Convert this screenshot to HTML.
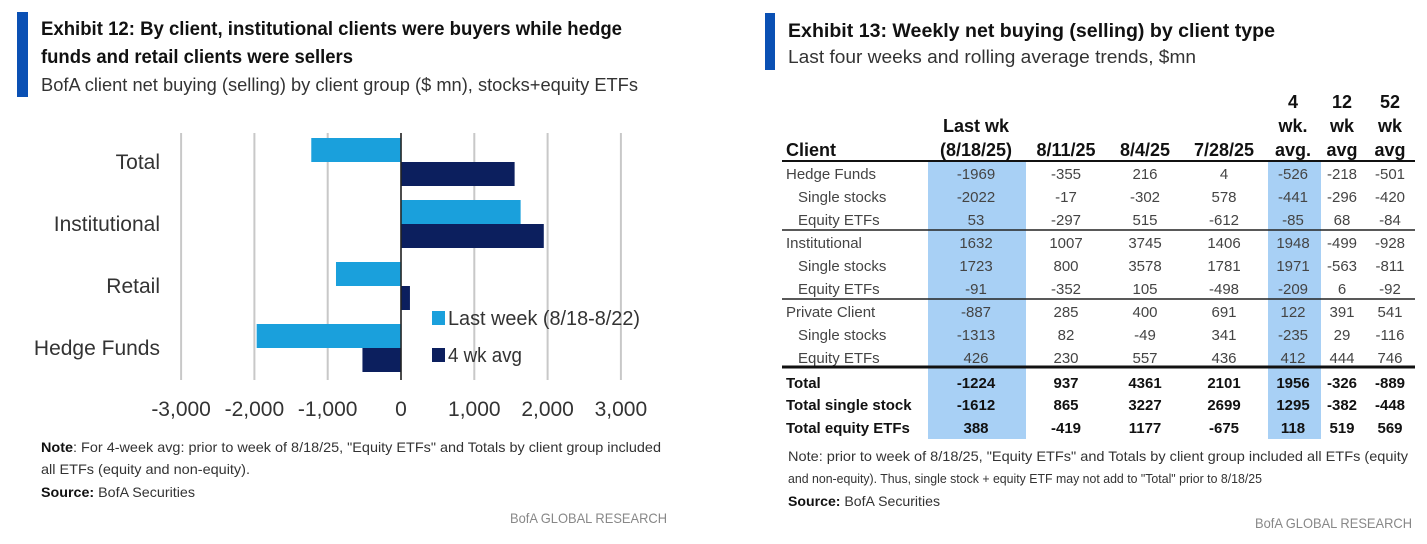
<!DOCTYPE html>
<html><head><meta charset="utf-8"><style>
html,body{margin:0;padding:0;background:#fff;}
svg{display:block;font-family:"Liberation Sans Narrow","Liberation Sans",sans-serif;}
</style></head><body>
<svg id="s" width="1427" height="544" viewBox="0 0 1427 544" xmlns="http://www.w3.org/2000/svg">
<rect width="1427" height="544" fill="#fff"/>
<rect x="17" y="12" width="11" height="85" fill="#0a50b4"/>
<text x="41" y="35" font-size="19" font-weight="bold" fill="#111" textLength="581" lengthAdjust="spacingAndGlyphs">Exhibit 12: By client, institutional clients were buyers while hedge</text>
<text x="41" y="63" font-size="19" font-weight="bold" fill="#111" textLength="312" lengthAdjust="spacingAndGlyphs">funds and retail clients were sellers</text>
<text x="41" y="91" font-size="18" fill="#333" textLength="597" lengthAdjust="spacingAndGlyphs">BofA client net buying (selling) by client group ($ mn), stocks+equity ETFs</text>
<g id="chart"></g>
<rect x="432" y="311" width="13" height="14" fill="#1aa0dc"/>
<text x="448" y="325" font-size="20" fill="#333" textLength="192" lengthAdjust="spacingAndGlyphs">Last week (8/18-8/22)</text>
<rect x="432" y="348" width="13" height="14" fill="#0c1f5e"/>
<text x="448" y="362" font-size="20" fill="#333" textLength="74" lengthAdjust="spacingAndGlyphs">4 wk avg</text>
<text x="41" y="452" font-size="14" fill="#333" textLength="620" lengthAdjust="spacingAndGlyphs"><tspan font-weight="bold" fill="#111">Note</tspan>: For 4-week avg: prior to week of 8/18/25, "Equity ETFs" and Totals by client group included</text>
<text x="41" y="474" font-size="14" fill="#333" textLength="209" lengthAdjust="spacingAndGlyphs">all ETFs (equity and non-equity).</text>
<text x="41" y="497" font-size="14" fill="#333" textLength="154" lengthAdjust="spacingAndGlyphs"><tspan font-weight="bold" fill="#111">Source:</tspan> BofA Securities</text>
<text x="510" y="523" font-size="14" fill="#888" textLength="157" lengthAdjust="spacingAndGlyphs">BofA GLOBAL RESEARCH</text>

<rect x="765" y="13" width="10" height="57" fill="#0a50b4"/>
<text x="788" y="37" font-size="19" font-weight="bold" fill="#111" textLength="487" lengthAdjust="spacingAndGlyphs">Exhibit 13: Weekly net buying (selling) by client type</text>
<text x="788" y="63" font-size="18" fill="#333" textLength="408" lengthAdjust="spacingAndGlyphs">Last four weeks and rolling average trends, $mn</text>
<g id="table"></g>
<text x="788" y="461" font-size="14" fill="#333" textLength="620" lengthAdjust="spacingAndGlyphs">Note: prior to week of 8/18/25, "Equity ETFs" and Totals by client group included all ETFs (equity</text>
<text x="788" y="483" font-size="13" fill="#333" textLength="474" lengthAdjust="spacingAndGlyphs">and non-equity). Thus, single stock + equity ETF may not add to "Total" prior to 8/18/25</text>
<text x="788" y="506" font-size="14" fill="#333" textLength="152" lengthAdjust="spacingAndGlyphs"><tspan font-weight="bold" fill="#111">Source:</tspan> BofA Securities</text>
<text x="1255" y="528" font-size="14" fill="#888" textLength="157" lengthAdjust="spacingAndGlyphs">BofA GLOBAL RESEARCH</text>
</svg>
<script>
const categories = ["Total","Institutional","Retail","Hedge Funds"];
const lastWeek = [-1224, 1632, -887, -1969];
const fourWkAvg = [1550, 1948, 122, -526];
const xTicks = [-3000,-2000,-1000,0,1000,2000,3000];
const xTickLabels = ["-3,000","-2,000","-1,000","0","1,000","2,000","3,000"];

const rowLabels = ["Hedge Funds","Single stocks","Equity ETFs","Institutional","Single stocks","Equity ETFs","Private Client","Single stocks","Equity ETFs","Total","Total single stock","Total equity ETFs"];
const colLastWk = [-1969,-2022,53,1632,1723,-91,-887,-1313,426,-1224,-1612,388];
const col0811 = [-355,-17,-297,1007,800,-352,285,82,230,937,865,-419];
const col0804 = [216,-302,515,3745,3578,105,400,-49,557,4361,3227,1177];
const col0728 = [4,578,-612,1406,1781,-498,691,341,436,2101,2699,-675];
const col4wk = [-526,-441,-85,1948,1971,-209,122,-235,412,1956,1295,118];
const col12wk = [-218,-296,68,-499,-563,6,391,29,444,-326,-382,519];
const col52wk = [-501,-420,-84,-928,-811,-92,541,-116,746,-889,-448,569];

const NS="http://www.w3.org/2000/svg";
function mk(tag, attrs, parent){const e=document.createElementNS(NS,tag);for(const k in attrs)e.setAttribute(k,attrs[k]);parent.appendChild(e);return e;}

const chart=document.getElementById('chart');
const x0=401, pxPer=73.3/1000;
const xs=v=>x0+v*pxPer;
const plotTop=133, plotBottom=380, band=62, barH=24;
xTicks.forEach((t,i)=>{
  const g=mk('line',{x1:xs(t),x2:xs(t),y1:plotTop,y2:plotBottom,stroke:'#c8c8c8','stroke-width':2},chart);
  
  
  const tx=mk('text',{x:xs(t),y:416,'font-size':21,'text-anchor':'middle',fill:'#333'},chart);
  tx.textContent=xTickLabels[i];
  
  
});
categories.forEach((c,i)=>{
  const cy=138+band*i+barH;
  const a=lastWeek[i], b=fourWkAvg[i];
  const r1=mk('rect',{x:Math.min(xs(0),xs(a)),y:cy-barH,width:Math.abs(xs(a)-xs(0)),height:barH,fill:'#1aa0dc'},chart);
  
  
  const r2=mk('rect',{x:Math.min(xs(0),xs(b)),y:cy,width:Math.abs(xs(b)-xs(0)),height:barH,fill:'#0c1f5e'},chart);
  
  
  const l=mk('text',{x:160,y:cy+7,'font-size':21,'text-anchor':'end',fill:'#333'},chart);
  l.textContent=c;
  
  
});
const zl=mk('line',{x1:x0,x2:x0,y1:plotTop,y2:plotBottom,stroke:'#222','stroke-width':1.5},chart);



const tb=document.getElementById('table');
const cols=[colLastWk,col0811,col0804,col0728,col4wk,col12wk,col52wk];
const cx=[976,1066,1145,1224,1293,1342,1390];
const hl1=mk('rect',{x:928,y:161,width:98,height:278,fill:'#a8d0f5'},tb);


const hl2=mk('rect',{x:1268,y:161,width:53,height:278,fill:'#a8d0f5'},tb);


const heads=[["Last wk","(8/18/25)"],["8/11/25"],["8/4/25"],["7/28/25"],["4","wk.","avg."],["12","wk","avg"],["52","wk","avg"]];
heads.forEach((h,i)=>{
  h.forEach((s,j)=>{
    const t=mk('text',{x:cx[i],y:156-(h.length-1-j)*24,'font-size':18,'font-weight':'bold','text-anchor':'middle',fill:'#111'},tb);
    t.textContent=s;
    
    
  });
});
const ch=mk('text',{x:786,y:156,'font-size':18,'font-weight':'bold',fill:'#111'},tb);
ch.textContent="Client";


mk('line',{x1:782,x2:1415,y1:161,y2:161,stroke:'#111','stroke-width':2},tb);
const rowY=[174,197,220,243,266,289,312,335,358,383,405,428];
rowLabels.forEach((lab,r)=>{
  const bold=r>=9;
  const indent=(r<9 && r%3!==0)?12:0;
  const t=mk('text',{x:786+indent,y:rowY[r]+5,'font-size':15,'font-weight':bold?'bold':'normal',fill:bold?'#111':'#444'},tb);
  t.textContent=lab;
  
  
  cols.forEach((col,c)=>{
    const v=mk('text',{x:cx[c],y:rowY[r]+5,'font-size':15,'font-weight':bold?'bold':'normal','text-anchor':'middle',fill:bold?'#111':'#444'},tb);
    v.textContent=String(col[r]);
    
    
  });
});
mk('line',{x1:782,x2:1415,y1:230,y2:230,stroke:'#222','stroke-width':1.5},tb);
mk('line',{x1:782,x2:1415,y1:299,y2:299,stroke:'#222','stroke-width':1.5},tb);
mk('line',{x1:782,x2:1415,y1:367,y2:367,stroke:'#111','stroke-width':3},tb);
</script>
</body></html>
